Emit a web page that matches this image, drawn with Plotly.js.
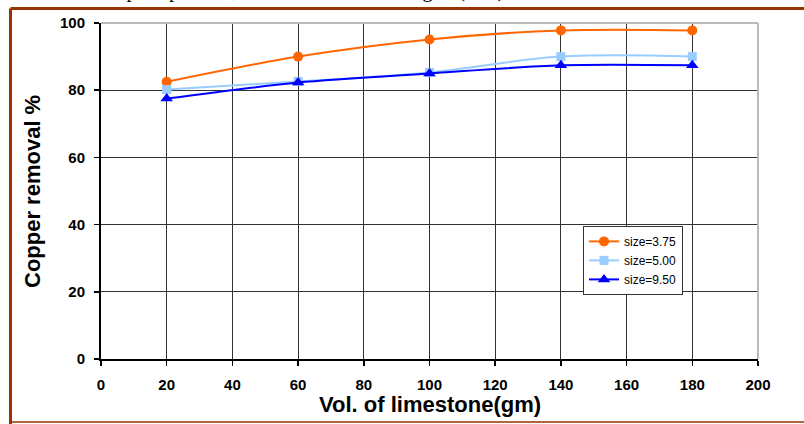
<!DOCTYPE html>
<html>
<head>
<meta charset="utf-8">
<script src="https://cdn.plot.ly/plotly-3.0.1.min.js"></script>
<style>html,body{margin:0;padding:0;background:#fff}#chart{width:804px;height:424px}</style>
</head>
<body>
<div id="chart"></div>
<script>
// Data
const volume = [20, 60, 100, 140, 180];
const size375 = [82.5, 90.0, 95.1, 97.8, 97.8];
const size500 = [80.2, 82.6, 85.3, 90.0, 90.0];
const size950 = [77.5, 82.3, 85.0, 87.4, 87.4];
const seriesNames = ["size=3.75", "size=5.00", "size=9.50"];
const xTicks = [0, 20, 40, 60, 80, 100, 120, 140, 160, 180, 200];
const yTicks = [0, 20, 40, 60, 80, 100];
const xTitle = "Vol. of limestone(gm)";
const yTitle = "Copper removal %";
const pageText = "the removal in pure pH=6.0, the contact time changed (min)";

const L = 101, R = 758, T = 22.5, B = 359.5, W = 804, H = 424;
const px = v => (v - L) / (R - L);
const py = v => (B - v) / (B - T);

const font = "Arial, 'Liberation Sans', sans-serif";

const traces = [
  {x: volume, y: size375, name: seriesNames[0], type: 'scatter', mode: 'lines+markers',
   line: {color: '#FF6600', width: 2, shape: 'spline', smoothing: 1},
   marker: {symbol: 'circle', size: 10, color: '#FF6600'}},
  {x: volume, y: size500, name: seriesNames[1], type: 'scatter', mode: 'lines+markers',
   line: {color: '#99CCFF', width: 2, shape: 'spline', smoothing: 1},
   marker: {symbol: 'square', size: 9, color: '#99CCFF'}},
  {x: volume, y: size950, name: seriesNames[2], type: 'scatter', mode: 'lines+markers',
   line: {color: '#0000FF', width: 2, shape: 'spline', smoothing: 0.8},
   marker: {symbol: 'triangle-up', size: 11, color: '#0000FF'}}
];

const layout = {
  width: W, height: H,
  margin: {l: L, r: W - R, t: T, b: H - B, pad: 0},
  paper_bgcolor: '#fff', plot_bgcolor: '#fff',
  showlegend: true,
  legend: {x: px(583), y: py(226), xanchor: 'left', yanchor: 'top',
    bgcolor: '#fff', bordercolor: '#333', borderwidth: 1,
    font: {family: font, size: 12, color: '#000'}, tracegroupgap: 0,
    itemwidth: 30},
  xaxis: {range: [0, 200], tickvals: xTicks, ticktext: xTicks.map(String),
    showgrid: true, gridcolor: '#333', gridwidth: 1,
    showline: true, linecolor: '#000', linewidth: 2,
    ticks: 'outside', ticklen: 5, tickwidth: 1.5, tickcolor: '#000',
    ticklabelstandoff: 6,
    zeroline: false, fixedrange: true,
    tickfont: {family: font, size: 15, color: '#000', weight: 'bold'}},
  yaxis: {range: [0, 100], tickvals: yTicks, ticktext: yTicks.map(String),
    showgrid: true, gridcolor: '#333', gridwidth: 1,
    showline: true, linecolor: '#000', linewidth: 2,
    ticks: 'outside', ticklen: 5, tickwidth: 1.5, tickcolor: '#000',
    ticklabelstandoff: 6,
    zeroline: false, fixedrange: true,
    tickfont: {family: font, size: 15, color: '#000', weight: 'bold'}},
  shapes: [
    {type: 'line', xref: 'paper', yref: 'paper', x0: 0, x1: 1, y0: 1, y1: 1, line: {color: '#BBBBBB', width: 2}, layer: 'above'},
    {type: 'line', xref: 'paper', yref: 'paper', x0: 1, x1: 1, y0: 0, y1: 1, line: {color: '#BBBBBB', width: 2}, layer: 'above'},
    {type: 'line', xref: 'paper', yref: 'paper', x0: px(10.5), x1: px(820), y0: py(8), y1: py(8), line: {color: '#993300', width: 3}},
    {type: 'line', xref: 'paper', yref: 'paper', x0: px(10.5), x1: px(10.5), y0: py(8), y1: py(430), line: {color: '#993300', width: 3}},
    {type: 'line', xref: 'paper', yref: 'paper', x0: px(10.5), x1: px(820), y0: py(422.8), y1: py(422.8), line: {color: '#993300', width: 1.5}}
  ],
  annotations: [
    {xref: 'paper', yref: 'paper', x: px(-2), y: py(3), xanchor: 'left', yanchor: 'bottom',
     text: pageText, showarrow: false,
     font: {family: "'Liberation Serif', 'Times New Roman', serif", size: 21, color: '#000'}},
    {xref: 'paper', yref: 'paper', x: px(429.5), y: py(405.5), xanchor: 'center', yanchor: 'middle',
     text: '<b>' + xTitle + '</b>', showarrow: false,
     font: {family: font, size: 22, color: '#000'}},
    {xref: 'paper', yref: 'paper', x: px(33), y: py(192), xanchor: 'center', yanchor: 'middle',
     text: '<b>' + yTitle + '</b>', showarrow: false, textangle: -90,
     font: {family: font, size: 22, color: '#000'}}
  ]
};

Plotly.newPlot('chart', traces, layout, {displayModeBar: false, staticPlot: true});
</script>
</body>
</html>
